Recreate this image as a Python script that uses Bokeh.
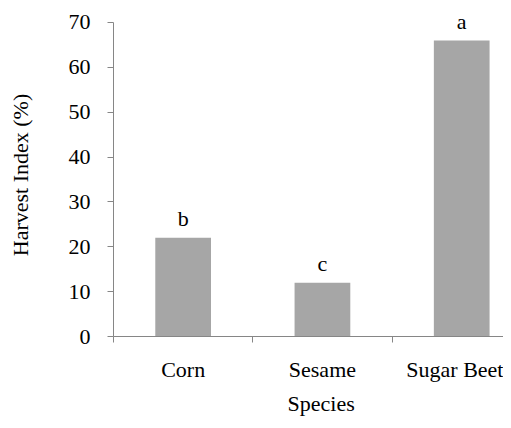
from bokeh.plotting import figure
from bokeh.models import Range1d, FixedTicker, ColumnDataSource, Title
from bokeh.embed import file_html
from bokeh.resources import INLINE
from bokeh.core.properties import value

species = ["Corn", "Sesame", "Sugar Beet"]
harvest_index = [22, 12, 66]
letters = ["b", "c", "a"]
y_ticks = [0, 10, 20, 30, 40, 50, 60, 70]

xs = [i + 0.5 for i in range(len(species))]
src = ColumnDataSource(dict(x=xs, top=harvest_index, lab=letters))

FONT = "Liberation Serif"
FS = "22px"
AX = "#868686"

p = figure(width=503, height=420, output_backend="svg", toolbar_location=None,
           x_range=Range1d(0, 2.80), y_range=Range1d(0, 72))
p.min_border_left = 113
p.min_border_right = 0
p.min_border_top = 13
p.min_border_bottom = 84
p.outline_line_color = None
p.grid.visible = False
p.background_fill_color = "white"
p.border_fill_color = "white"

p.vbar(x="x", top="top", width=0.4, bottom=0, source=src,
       fill_color="#a6a6a6", line_color=None)
p.text(x="x", y="top", text="lab", source=src, y_offset=-19,
       text_align="center", text_baseline="alphabetic",
       text_font=value(FONT), text_font_size=FS, text_color="black")

xa = p.xaxis[0]
xa.ticker = FixedTicker(ticks=xs, minor_ticks=[0, 1, 2])
xa.major_label_overrides = {x: s for x, s in zip(xs, species)}
xa.major_tick_line_color = None
xa.major_tick_out = 0
xa.major_tick_in = 0
xa.minor_tick_out = 6
xa.minor_tick_in = 0
xa.minor_tick_line_color = AX
xa.axis_line_color = AX
xa.major_label_standoff = 14
xa.major_label_text_font = FONT
xa.major_label_text_font_size = FS
xa.major_label_text_color = "black"

title_x = Title(text="Species", align="left", offset=174, standoff=9,
                text_font=FONT, text_font_size=FS, text_font_style="normal",
                text_color="black")
p.add_layout(title_x, "below")

ya = p.yaxis[0]
ya.bounds = (0, 70)
ya.ticker = FixedTicker(ticks=y_ticks, minor_ticks=[])
ya.major_tick_out = 6
ya.major_tick_in = 0
ya.major_tick_line_color = AX
ya.axis_line_color = AX
ya.major_label_standoff = 17
ya.axis_label = "Harvest Index (%)"
ya.axis_label_standoff = 33
ya.major_label_text_font = FONT
ya.major_label_text_font_size = FS
ya.axis_label_text_font = FONT
ya.axis_label_text_font_size = FS
ya.axis_label_text_font_style = "normal"
ya.axis_label_text_color = "black"
ya.major_label_text_color = "black"

open("out.html", "w").write(file_html(p, INLINE))
